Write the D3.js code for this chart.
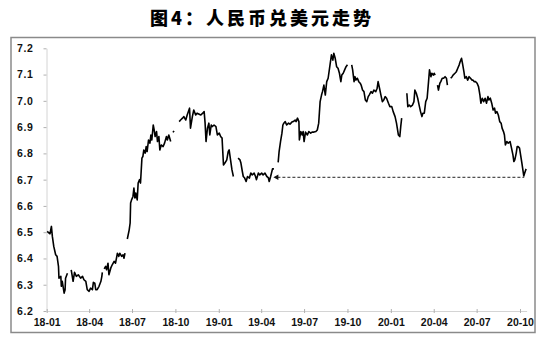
<!DOCTYPE html>
<html><head><meta charset="utf-8">
<script src="https://cdn.jsdelivr.net/npm/d3@7"></script>
<style>body{margin:0;background:#fff}</style>
</head><body>
<svg id="chart" width="546" height="342"></svg>
<script>
const titleText = "图4：人民币兑美元走势";

// USD/CNY, null marks a break in the series
const dates = [
"2018-01-02","2018-01-08","2018-01-11","2018-01-13","2018-01-16","2018-01-20","2018-01-23","2018-01-26","2018-01-27","2018-01-31",
"2018-02-01","2018-02-03","2018-02-07","2018-02-09","2018-02-10","2018-02-14","2018-02-18",
"2018-02-22","2018-02-26","2018-03-01","2018-03-05","2018-03-09","2018-03-14","2018-03-18","2018-03-21","2018-03-25","2018-03-28",
"2018-04-01","2018-04-04","2018-04-08","2018-04-10","2018-04-13","2018-04-15","2018-04-18","2018-04-22","2018-04-26","2018-04-28","2018-04-29","2018-05-01",
"2018-05-03","2018-05-06","2018-05-08","2018-05-11","2018-05-13","2018-05-17","2018-05-20","2018-05-24","2018-05-27","2018-05-31",
"2018-06-03","2018-06-05","2018-06-09","2018-06-12","2018-06-14","2018-06-16","2018-06-18",
"2018-06-21","2018-06-25","2018-06-27","2018-06-28","2018-06-30","2018-07-03","2018-07-05","2018-07-07","2018-07-09","2018-07-12",
"2018-07-14","2018-07-17","2018-07-19","2018-07-22","2018-07-24","2018-07-26","2018-07-29","2018-07-31","2018-08-02","2018-08-05",
"2018-08-08","2018-08-10","2018-08-12","2018-08-15","2018-08-17","2018-08-19","2018-08-22","2018-08-24","2018-08-27","2018-08-29",
"2018-09-01","2018-09-05","2018-09-08","2018-09-12","2018-09-14","2018-09-17","2018-09-21","2018-09-24",
"2018-09-26","2018-09-28","2018-10-03",
"2018-10-09","2018-10-12","2018-10-16","2018-10-19","2018-10-23","2018-10-26","2018-10-31","2018-11-02","2018-11-06","2018-11-09",
"2018-11-13","2018-11-16","2018-11-24","2018-11-28","2018-12-01","2018-12-03","2018-12-05","2018-12-08","2018-12-11","2018-12-13",
"2018-12-16","2018-12-18","2018-12-22","2018-12-26","2018-12-29","2019-01-02","2019-01-05","2019-01-08","2019-01-11","2019-01-14",
"2019-01-18","2019-01-21","2019-01-23","2019-01-26","2019-01-29","2019-02-01","2019-02-05",
"2019-02-11","2019-02-15","2019-02-17","2019-02-20","2019-02-22","2019-02-25","2019-02-28","2019-03-03","2019-03-07","2019-03-10",
"2019-03-13","2019-03-17","2019-03-20","2019-03-22","2019-03-26","2019-03-29","2019-04-02","2019-04-05","2019-04-09","2019-04-13",
"2019-04-16","2019-04-18","2019-04-21","2019-04-25","2019-04-28","2019-05-03",
"2019-05-07","2019-05-09","2019-05-12","2019-05-15","2019-05-17","2019-05-19","2019-05-22","2019-05-25","2019-05-29","2019-06-01",
"2019-06-05","2019-06-08","2019-06-12","2019-06-14","2019-06-17","2019-06-20","2019-06-21","2019-06-24","2019-06-27","2019-06-29",
"2019-07-01","2019-07-04","2019-07-08","2019-07-11","2019-07-15","2019-07-18","2019-07-22","2019-07-26","2019-07-29","2019-08-01",
"2019-08-04","2019-08-07","2019-08-09","2019-08-12","2019-08-15","2019-08-18","2019-08-21","2019-08-25","2019-08-28","2019-08-31",
"2019-09-02","2019-09-05","2019-09-08","2019-09-11","2019-09-14","2019-09-17","2019-09-19","2019-09-22","2019-09-25","2019-09-28",
"2019-10-01","2019-10-05",
"2019-10-10","2019-10-12","2019-10-15","2019-10-17","2019-10-19","2019-10-22","2019-10-25","2019-10-28","2019-10-30","2019-11-02",
"2019-11-05","2019-11-08","2019-11-11","2019-11-14","2019-11-16","2019-11-20","2019-11-23","2019-11-26","2019-11-30","2019-12-03",
"2019-12-05","2019-12-08","2019-12-11","2019-12-14","2019-12-17","2019-12-20","2019-12-23","2019-12-27","2019-12-30","2020-01-03",
"2020-01-06","2020-01-10","2020-01-13","2020-01-17","2020-01-20","2020-01-22","2020-01-24","2020-01-30",
"2020-02-04","2020-02-06","2020-02-09","2020-02-12","2020-02-16","2020-02-19","2020-02-21","2020-02-24","2020-02-27","2020-03-01",
"2020-03-04","2020-03-07","2020-03-09","2020-03-12","2020-03-15","2020-03-18","2020-03-21","2020-03-23","2020-03-26","2020-03-28",
"2020-03-31","2020-04-02","2020-04-04","2020-04-06",
"2020-04-09","2020-04-11","2020-04-14","2020-04-16","2020-04-19","2020-04-22","2020-04-25","2020-04-28","2020-04-30","2020-05-03",
"2020-05-07","2020-05-10","2020-05-12","2020-05-16","2020-05-19","2020-05-22","2020-05-25","2020-05-27","2020-05-30","2020-06-01",
"2020-06-04","2020-06-06","2020-06-09","2020-06-12","2020-06-15","2020-06-18","2020-06-21","2020-06-23","2020-06-26","2020-06-29",
"2020-07-02","2020-07-05","2020-07-08","2020-07-10","2020-07-13","2020-07-16","2020-07-19","2020-07-22","2020-07-25","2020-07-27",
"2020-07-30","2020-08-02","2020-08-05","2020-08-08","2020-08-10","2020-08-13","2020-08-16","2020-08-19","2020-08-22","2020-08-24",
"2020-08-27","2020-08-29","2020-08-31","2020-09-03","2020-09-06","2020-09-10","2020-09-13","2020-09-16","2020-09-18","2020-09-20",
"2020-09-23","2020-09-25","2020-09-27","2020-09-30","2020-10-05","2020-10-09","2020-10-12","2020-10-14"
];
const rates = [
6.503,6.494,6.522,6.484,6.446,6.414,6.408,6.370,6.325,6.332,
6.294,6.313,6.268,6.281,6.325,6.344,null,
6.357,6.313,6.347,6.332,6.338,6.325,6.332,6.319,6.313,6.281,
6.275,6.287,6.281,6.309,6.306,6.281,6.281,6.294,6.313,6.332,6.347,null,
6.360,6.370,6.357,6.382,6.338,6.364,6.376,6.389,6.382,6.420,
6.408,6.420,6.408,6.414,6.401,6.420,null,
6.474,6.509,6.535,6.611,6.623,6.636,6.668,6.630,6.649,6.623,
6.687,6.700,6.687,6.782,6.788,6.813,6.801,6.826,6.807,6.851,
6.839,6.870,6.851,6.908,6.889,6.864,6.883,6.845,6.864,6.813,
6.832,6.826,6.839,6.864,6.851,6.870,6.845,null,
6.880,6.886,null,
6.921,6.927,6.934,6.940,6.927,6.946,6.972,6.896,6.940,6.965,
6.946,6.953,6.946,6.953,6.959,6.915,6.845,6.896,6.915,6.870,
6.908,6.902,6.908,6.902,6.870,6.877,6.864,6.858,6.756,6.763,
6.775,6.807,6.813,6.775,6.737,6.712,null,
6.782,6.775,6.763,6.731,6.712,6.706,6.693,6.712,6.706,6.725,
6.718,6.725,6.712,6.700,6.725,6.718,6.725,6.718,6.725,6.712,
6.708,6.693,6.712,6.741,6.741,null,
6.766,6.807,6.845,6.877,6.908,6.915,6.921,6.908,6.915,6.911,
6.919,6.921,6.927,6.921,6.934,6.921,6.851,6.883,6.870,6.883,
6.845,6.881,6.870,6.883,6.877,6.881,6.881,6.883,6.889,6.915,
6.997,7.022,7.035,7.060,7.022,7.073,7.086,7.137,7.175,7.155,
7.181,7.162,7.130,7.124,7.105,7.073,7.098,7.105,7.118,7.130,
7.137,null,
7.137,7.118,7.073,7.092,7.079,7.086,7.073,7.067,7.060,7.041,
7.035,7.003,6.997,7.016,7.022,7.035,7.029,7.041,7.035,7.048,
7.073,7.048,7.022,6.997,7.003,7.016,7.010,6.991,6.978,6.978,
6.959,6.940,6.915,6.870,6.864,6.902,6.934,null,
7.029,6.978,6.984,6.978,6.984,6.997,7.041,7.029,7.010,6.984,
6.959,6.940,6.953,6.953,6.997,7.010,7.073,7.118,7.092,7.105,
7.098,7.105,7.098,null,
7.060,7.041,7.067,7.073,7.086,7.086,7.092,7.086,7.060,null,
7.086,7.092,7.098,7.105,7.111,7.124,7.137,7.149,7.162,7.143,
7.111,7.086,7.092,7.079,7.092,7.086,7.079,7.079,7.073,7.073,
7.067,7.054,7.022,6.991,7.010,6.997,7.010,6.991,7.016,7.003,
7.010,6.991,6.965,6.972,6.953,6.959,6.946,6.921,6.915,6.896,
6.883,6.870,6.832,6.845,6.839,6.845,6.820,6.794,6.769,6.775,
6.801,6.826,6.826,6.820,6.763,6.714,6.731,6.741
];

const xTickDates  = ["2018-01-01","2018-04-01","2018-07-01","2018-10-01","2019-01-01","2019-04-01","2019-07-01","2019-10-01","2020-01-01","2020-04-01","2020-07-01","2020-10-01"];
const xTickLabels = ["18-01","18-04","18-07","18-10","19-01","19-04","19-07","19-10","20-01","20-04","20-07","20-10"];
const yTicks = [6.2,6.3,6.4,6.5,6.6,6.7,6.8,6.9,7.0,7.1,7.2];

// reference (dashed) level
const refLevel = 6.709;
const refStart = "2019-04-29";
const refEnd   = "2020-10-10";

const parse = d3.timeParse("%Y-%m-%d");
const series = dates.map((d,i) => ({date: parse(d), v: rates[i]}));

const svg = d3.select("#chart");
const x = d3.scaleTime().domain([parse("2018-01-01"), parse("2020-10-15")]).range([46.7, 526.6]);
const y = d3.scaleLinear().domain([6.2, 7.2]).range([311, 48.3]);

// frame
svg.append("rect").attr("x",11).attr("y",37.5).attr("width",524).attr("height",295)
  .attr("fill","none").attr("stroke","#8a8a8a").attr("stroke-width",1.5);

// title
svg.append("text").attr("x",262).attr("y",25).attr("text-anchor","middle")
  .attr("font-family","'Noto Sans CJK SC'").attr("font-weight",900).attr("font-size",18)
  .attr("letter-spacing","3px").attr("fill","#000").text(titleText);

const fontFam = "'Liberation Sans', Arial, sans-serif";

// y axis
const yAxis = svg.append("g").attr("transform","translate(46.5,0)")
  .call(d3.axisLeft(y).tickValues(yTicks).tickSizeInner(3).tickSizeOuter(0).tickPadding(10).tickFormat(d3.format(".1f")));
yAxis.select(".domain").attr("stroke","#d4d4d4");
yAxis.selectAll(".tick line").attr("stroke","#b0b0b0");
yAxis.selectAll("text").attr("font-family",fontFam).attr("font-weight","bold").attr("font-size",10.5).attr("fill","#111").attr("letter-spacing","0.6px");

// x axis
const xAxis = svg.append("g").attr("transform","translate(0,311)")
  .call(d3.axisBottom(x).tickValues(xTickDates.map(parse)).tickSizeInner(3).tickSizeOuter(0).tickPadding(5)
    .tickFormat((d,i) => xTickLabels[i]));
xAxis.select(".domain").attr("stroke","#d4d4d4");
xAxis.selectAll(".tick line").attr("stroke","#b0b0b0").attr("y1",-2).attr("y2",2);
xAxis.selectAll("text").attr("font-family",fontFam).attr("font-weight","bold").attr("font-size",10.5).attr("fill","#111");

// dashed reference line with arrow head at its start
const rx0 = x(parse(refStart)), rx1 = x(parse(refEnd)), ry = y(refLevel);
svg.append("line").attr("x1",rx0+3).attr("x2",rx1).attr("y1",ry).attr("y2",ry)
  .attr("stroke","#222").attr("stroke-width",1).attr("stroke-dasharray","3,2");
svg.append("path").attr("d",`M${rx0-1},${ry} L${rx0+4},${ry-2.8} L${rx0+4},${ry+2.8} Z`).attr("fill","#111");

// rate line
const line = d3.line().defined(d => d.v != null).x(d => x(d.date)).y(d => y(d.v));
svg.append("path").datum(series).attr("d",line).attr("fill","none")
  .attr("stroke","#000").attr("stroke-width",1.6).attr("stroke-linejoin","round");
</script>
</body></html>
